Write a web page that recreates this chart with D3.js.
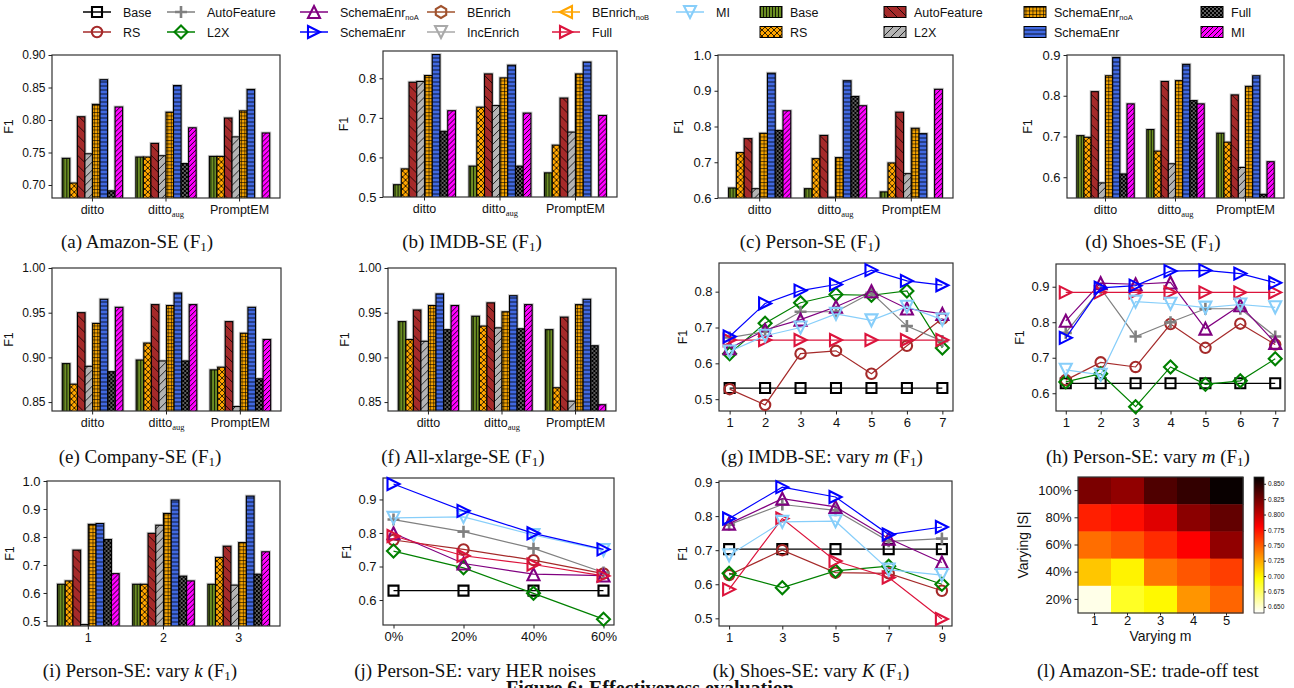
<!DOCTYPE html>
<html><head><meta charset="utf-8">
<script src="https://cdn.jsdelivr.net/npm/d3@7"></script>
<style>
body{margin:0;background:#fff;}
svg text{font-family:"Liberation Sans",Arial,sans-serif;fill:#111;}
svg text.cap{font-family:"Liberation Serif","DejaVu Serif",serif;}
</style></head><body>
<svg width="1294" height="688"></svg>
<script>
// ---- data ----
var groups = ["ditto", "ditto_aug", "PromptEM"];
var kGroups = ["1", "2", "3"];
var barKeys = ["Base", "RS", "AutoFeature", "L2X", "SchemaEnr_noA", "SchemaEnr", "Full", "MI"];

var amazonSE = [
  [0.741, 0.703, 0.805, 0.748, 0.824, 0.862, 0.691, 0.820],
  [0.743, 0.743, 0.764, 0.745, 0.812, 0.853, 0.733, 0.788],
  [0.744, 0.744, 0.803, 0.774, 0.814, 0.847, null, 0.780]];
var imdbSE = [
  [0.531, 0.571, 0.790, 0.792, 0.807, 0.860, 0.666, 0.718],
  [0.578, 0.727, 0.811, 0.731, 0.801, 0.833, 0.578, 0.712],
  [0.561, 0.631, 0.750, 0.664, 0.811, 0.841, null, 0.706]];
var personSE = [
  [0.628, 0.727, 0.766, 0.626, 0.781, 0.949, 0.789, 0.844],
  [0.626, 0.710, 0.775, 0.602, 0.713, 0.928, 0.884, 0.858],
  [0.617, 0.698, 0.840, 0.668, 0.795, 0.780, null, 0.904]];
var shoesSE = [
  [0.702, 0.698, 0.810, 0.586, 0.849, 0.894, 0.608, 0.780],
  [0.717, 0.664, 0.835, 0.633, 0.837, 0.877, 0.788, 0.780],
  [0.708, 0.686, 0.802, 0.624, 0.823, 0.849, 0.558, 0.638]];
var companySE = [
  [0.893, 0.870, 0.950, 0.890, 0.938, 0.965, 0.884, 0.956],
  [0.897, 0.916, 0.959, 0.896, 0.958, 0.972, 0.896, 0.959],
  [0.886, 0.889, 0.940, 0.845, 0.927, 0.956, 0.876, 0.920]];
var allXlargeSE = [
  [0.940, 0.920, 0.953, 0.918, 0.958, 0.971, 0.931, 0.958],
  [0.946, 0.935, 0.961, 0.933, 0.951, 0.969, 0.932, 0.959],
  [0.931, 0.866, 0.945, 0.851, 0.959, 0.965, 0.913, 0.847]];
var personVaryK = [
  [0.631, 0.643, 0.753, 0.487, 0.845, 0.848, 0.791, 0.669],
  [0.631, 0.631, 0.813, 0.842, 0.884, 0.932, 0.660, 0.643],
  [0.631, 0.727, 0.767, 0.628, 0.780, 0.946, 0.667, 0.747]];

var mValues = ["1", "2", "3", "4", "5", "6", "7"];
var imdbVaryM = {
  Base: [0.531, 0.531, 0.531, 0.531, 0.531, 0.531, 0.531],
  RS: [0.528, 0.484, 0.627, 0.635, 0.571, 0.649, 0.725],
  L2X: [0.627, 0.712, 0.769, 0.792, 0.790, 0.802, 0.643],
  AutoFeature: [0.672, 0.688, 0.744, 0.744, 0.797, 0.704, 0.662],
  SchemaEnr_noA: [0.642, 0.693, 0.722, 0.758, 0.801, 0.753, 0.738],
  Full: [0.665, 0.665, 0.665, 0.665, 0.665, 0.665, 0.665],
  MI: [0.633, 0.677, 0.700, 0.738, 0.720, 0.758, 0.722],
  SchemaEnr: [0.675, 0.767, 0.803, 0.820, 0.860, 0.830, 0.818]};
var personVaryM = {
  Base: [0.628, 0.628, 0.628, 0.628, 0.628, 0.628, 0.628],
  RS: [0.637, 0.687, 0.674, 0.795, 0.728, 0.796, 0.737],
  L2X: [0.632, 0.655, 0.562, 0.674, 0.625, 0.635, 0.697],
  AutoFeature: [0.770, 0.895, 0.760, 0.800, 0.838, 0.838, 0.760],
  SchemaEnr_noA: [0.804, 0.910, 0.907, 0.912, 0.782, 0.848, 0.742],
  Full: [0.884, 0.884, 0.884, 0.884, 0.884, 0.884, 0.884],
  MI: [0.666, 0.652, 0.858, 0.852, 0.841, 0.850, 0.842],
  SchemaEnr: [0.756, 0.897, 0.903, 0.944, 0.946, 0.937, 0.911]};

var noiseLevels = ["0%", "20%", "40%", "60%"];
var personNoise = {
  Base: [0.628, 0.628, 0.628, 0.628],
  RS: [0.779, 0.751, 0.719, 0.679],
  L2X: [0.746, 0.696, 0.620, 0.543],
  AutoFeature: [0.840, 0.804, 0.754, 0.682],
  SchemaEnr_noA: [0.799, 0.709, 0.677, 0.673],
  Full: [0.791, 0.732, 0.706, 0.672],
  MI: [0.845, 0.848, 0.794, 0.749],
  SchemaEnr: [0.946, 0.866, 0.799, 0.751]};

var kValues = ["1", "3", "5", "7", "9"];
var shoesVaryK = {
  Base: [0.703, 0.703, 0.703, 0.703, 0.703],
  RS: [0.627, 0.700, 0.634, 0.632, 0.581],
  L2X: [0.632, 0.590, 0.639, 0.653, 0.600],
  AutoFeature: [0.775, 0.834, 0.817, 0.726, 0.734],
  SchemaEnr_noA: [0.778, 0.851, 0.827, 0.734, 0.664],
  Full: [0.585, 0.793, 0.668, 0.620, 0.498],
  MI: [0.685, 0.783, 0.785, 0.643, 0.627],
  SchemaEnr: [0.793, 0.885, 0.856, 0.746, 0.768]};

var tradeM = ["1", "2", "3", "4", "5"];
var tradeS = ["100%", "80%", "60%", "40%", "20%"];
var tradeF1 = [
  [0.822, 0.815, 0.836, 0.845, 0.858],
  [0.770, 0.776, 0.790, 0.817, 0.830],
  [0.744, 0.752, 0.766, 0.781, 0.815],
  [0.715, 0.700, 0.741, 0.752, 0.760],
  [0.645, 0.688, 0.698, 0.731, 0.747]];

// ---- styles ----
var lineStyle = {
  Base: {c: "#000000", m: "square"},
  RS: {c: "#a52a2a", m: "circle"},
  AutoFeature: {c: "#808080", m: "plus"},
  L2X: {c: "#008000", m: "diamond"},
  SchemaEnr_noA: {c: "#800080", m: "triUp"},
  SchemaEnr: {c: "#0000ff", m: "triRight"},
  BEnrich: {c: "#a0522d", m: "hexagon"},
  IncEnrich: {c: "#a9a9a9", m: "triDown"},
  BEnrich_noB: {c: "#ffa500", m: "triLeft"},
  Full: {c: "#dc143c", m: "triRight"},
  MI: {c: "#87cefa", m: "triDown"}
};
var lineOrder = ["Base", "RS", "L2X", "AutoFeature", "SchemaEnr_noA", "Full", "MI", "SchemaEnr"];

var svg = d3.select("svg");
var defs = svg.append("defs");

function pattern(id, w, h, bg, d, sw) {
  var p = defs.append("pattern").attr("id", id).attr("patternUnits", "userSpaceOnUse")
    .attr("width", w).attr("height", h);
  p.append("rect").attr("width", w).attr("height", h).attr("fill", bg);
  if (d) p.append("path").attr("d", d).attr("stroke", "#000").attr("stroke-width", sw).attr("fill", "none");
  return p;
}
pattern("p-Base", 3, 3, "#6b8e23", "M1.5,0V3", 0.8);
pattern("p-RS", 6, 6, "#ffa500", "M0,0L6,6M6,0L0,6", 0.8);
pattern("p-AutoFeature", 10, 10, "#a52a2a", "M0,0L10,10M-5,5L5,15M5,-5L15,5", 0.8);
pattern("p-L2X", 8, 8, "#b4b4b4", "M0,8L8,0M-4,4L4,-4M4,12L12,4", 0.8);
pattern("p-SchemaEnr_noA", 3.5, 3.5, "#f5a300", "M0,0.5H3.5M0.5,0V3.5", 0.6);
pattern("p-SchemaEnr", 4, 4, "#4169e1", "M0,2H4", 0.8);
var pf = pattern("p-Full", 4, 4, "#000", null, 0);
pf.append("circle").attr("cx", 1).attr("cy", 1).attr("r", 0.7).attr("fill", "#fff");
pf.append("circle").attr("cx", 3).attr("cy", 3).attr("r", 0.7).attr("fill", "#fff");
pattern("p-MI", 5, 5, "#ff00ff", "M0,5L5,0M-2.5,2.5L2.5,-2.5M2.5,7.5L7.5,2.5", 0.9);

function markerPath(m) {
  var h;
  switch (m) {
    case "square": h = 5; return "M" + -h + "," + -h + "H" + h + "V" + h + "H" + -h + "Z";
    case "circle": h = 5.2; return "M" + h + ",0A" + h + "," + h + " 0 1,1 " + -h + ",0A" + h + "," + h + " 0 1,1 " + h + ",0Z";
    case "diamond": h = 6.5; return "M0," + -h + "L" + h + ",0L0," + h + "L" + -h + ",0Z";
    case "plus": h = 6; return "M" + -h + ",0H" + h + "M0," + -h + "V" + h;
    case "triUp": h = 6; return "M0," + -h + "L" + h + "," + h + "L" + -h + "," + h + "Z";
    case "triDown": h = 6; return "M0," + h + "L" + h + "," + -h + "L" + -h + "," + -h + "Z";
    case "triRight": h = 6; return "M" + h + ",0L" + -h + "," + h + "L" + -h + "," + -h + "Z";
    case "triLeft": h = 6; return "M" + -h + ",0L" + h + "," + h + "L" + h + "," + -h + "Z";
    case "hexagon":
      return d3.range(6).map(function(i) {
        var a = Math.PI / 3 * i + Math.PI / 2;
        return (i ? "L" : "M") + (6 * Math.cos(a)).toFixed(2) + "," + (6 * Math.sin(a)).toFixed(2);
      }).join("") + "Z";
  }
}

// text with subscript / italic pieces
function richText(sel, parts, subSize) {
  var back = 0;
  parts.forEach(function(p) {
    var t, isSub = typeof p === "object" && p.sub != null;
    if (typeof p === "string") t = sel.append("tspan").text(p);
    else if (isSub) t = sel.append("tspan").attr("font-size", subSize).text(p.sub);
    else t = sel.append("tspan").attr("font-style", "italic").text(p.i);
    var dy = (isSub ? 3 : 0) - back;
    if (dy) t.attr("dy", dy);
    back = isSub ? 3 : 0;
  });
  return sel;
}

function frame(g, o) {
  g.append("rect").attr("x", o.l).attr("y", o.t).attr("width", o.r - o.l).attr("height", o.b - o.t)
    .attr("fill", "none").attr("stroke", "#333").attr("stroke-width", 1.2);
}

function yAxis(g, o, y) {
  var ax = g.append("g").attr("transform", "translate(" + o.l + ",0)")
    .call(d3.axisLeft(y).tickValues(o.ticks).tickFormat(d3.format(o.fmt)).tickSize(3.5).tickPadding(3));
  ax.select(".domain").remove();
  ax.attr("font-size", o.fs).attr("font-family", "Liberation Sans, Arial, sans-serif").attr("color", "#222");
  g.append("text").attr("transform", "translate(" + (o.l - o.ylab) + "," + ((o.t + o.b) / 2) + ") rotate(-90)")
    .attr("text-anchor", "middle").attr("font-size", 12.5).text("F1");
}

function caption(x, y, parts) {
  var t = svg.append("text").attr("class", "cap").attr("x", x).attr("y", y)
    .attr("text-anchor", "middle").attr("font-size", 19);
  richText(t, parts, 13);
}

var panelId = 0;
function barPanel(o) {
  var g = svg.append("g");
  var id = "clip" + (panelId++);
  defs.append("clipPath").attr("id", id).append("rect")
    .attr("x", o.l).attr("y", o.t).attr("width", o.r - o.l).attr("height", o.b - o.t);
  var x0 = d3.scaleBand().domain(o.cats).range([o.l, o.r]).paddingInner(0.18).paddingOuter(0.14);
  var x1 = d3.scaleBand().domain(barKeys).range([0, x0.bandwidth()]);
  var y = d3.scaleLinear().domain(o.dom).range([o.b, o.t]);
  var bars = g.append("g").attr("clip-path", "url(#" + id + ")");
  var grp = bars.selectAll("g").data(o.data).join("g")
    .attr("transform", function(d, i) { return "translate(" + x0(o.cats[i]) + ",0)"; });
  var items = function(d) {
    return d.map(function(v, i) { return {k: barKeys[i], v: v}; }).filter(function(e) { return e.v != null; });
  };
  grp.selectAll("rect.halo").data(items).join("rect").attr("class", "halo")
    .attr("x", function(d) { return x1(d.k); }).attr("width", x1.bandwidth())
    .attr("y", function(d) { return y(d.v); }).attr("height", function(d) { return y(o.dom[0]) - y(d.v) + 2; })
    .attr("fill", "none").attr("stroke", "#c8c8c8").attr("stroke-width", 3);
  grp.selectAll("rect.bar").data(items).join("rect").attr("class", "bar")
    .attr("x", function(d) { return x1(d.k); }).attr("width", x1.bandwidth())
    .attr("y", function(d) { return y(d.v); }).attr("height", function(d) { return y(o.dom[0]) - y(d.v) + 2; })
    .attr("fill", function(d) { return "url(#p-" + d.k + ")"; })
    .attr("stroke", "#000").attr("stroke-width", 1.1);
  frame(g, o);
  yAxis(g, o, y);
  o.cats.forEach(function(c) {
    var cx = x0(c) + x0.bandwidth() / 2;
    g.append("line").attr("x1", cx).attr("x2", cx).attr("y1", o.b).attr("y2", o.b + 3.5).attr("stroke", "#222");
    var t = g.append("text").attr("x", cx).attr("y", o.b + 16).attr("text-anchor", "middle").attr("font-size", 12.5);
    if (c === "ditto_aug") {
      t.append("tspan").text("ditto");
      t.append("tspan").attr("font-size", 8.5).attr("dy", 3).attr("font-family", "Liberation Serif, serif").text("aug");
    } else t.text(c);
  });
}

function linePanel(o) {
  var g = svg.append("g");
  var x = d3.scalePoint().domain(o.xs).range([o.l, o.r]).padding(o.pad);
  var y = d3.scaleLinear().domain(o.dom).range([o.b, o.t]);
  frame(g, o);
  yAxis(g, o, y);
  var xa = g.append("g").attr("transform", "translate(0," + o.b + ")")
    .call(d3.axisBottom(x).tickSize(3.5).tickPadding(3));
  xa.select(".domain").remove();
  xa.attr("font-size", o.fs).attr("font-family", "Liberation Sans, Arial, sans-serif").attr("color", "#222");
  var line = d3.line().x(function(d, i) { return x(o.xs[i]); }).y(function(d) { return y(d); });
  lineOrder.forEach(function(k) {
    var st = lineStyle[k], vals = o.data[k];
    g.append("path").attr("d", line(vals)).attr("fill", "none").attr("stroke", st.c).attr("stroke-width", 1.2);
    g.selectAll(null).data(vals).join("path")
      .attr("transform", function(d, i) { return "translate(" + x(o.xs[i]) + "," + y(d) + ")"; })
      .attr("d", markerPath(st.m)).attr("fill", "none").attr("stroke", st.c)
      .attr("stroke-width", st.m === "plus" ? 2.6 : 2.1);
  });
}

// ---- legend ----
var lineLegend = [
  ["Base", 97, 0], ["AutoFeature", 181, 0], ["SchemaEnr_noA", 314, 0], ["BEnrich", 441, 0], ["BEnrich_noB", 566, 0], ["MI", 690, 0],
  ["RS", 97, 1], ["L2X", 181, 1], ["SchemaEnr", 314, 1], ["IncEnrich", 441, 1], ["Full", 566, 1]];
var barLegend = [
  ["Base", 760, 0], ["AutoFeature", 884, 0], ["SchemaEnr_noA", 1024, 0], ["Full", 1201, 0],
  ["RS", 760, 1], ["L2X", 884, 1], ["SchemaEnr", 1024, 1], ["MI", 1201, 1]];
function legendLabel(t, name) {
  var m = name.match(/^(.*)_(no[AB])$/);
  if (m) richText(t, [m[1], {sub: m[2]}], 7.5);
  else t.text(name);
}
var lg = svg.append("g");
lineLegend.forEach(function(e) {
  var st = lineStyle[e[0]], cy = 12 + e[2] * 20;
  lg.append("line").attr("x1", e[1] - 14).attr("x2", e[1] + 14).attr("y1", cy).attr("y2", cy)
    .attr("stroke", st.c).attr("stroke-width", 1.5);
  lg.append("path").attr("transform", "translate(" + e[1] + "," + cy + ")").attr("d", markerPath(st.m))
    .attr("fill", "none").attr("stroke", st.c).attr("stroke-width", st.m === "plus" ? 2.6 : 2.1);
  legendLabel(lg.append("text").attr("x", e[1] + 26).attr("y", cy + 4.5).attr("font-size", 12.5), e[0]);
});
barLegend.forEach(function(e) {
  var cy = 12 + e[2] * 20;
  lg.append("rect").attr("x", e[1]).attr("y", cy - 5.5).attr("width", 22).attr("height", 11)
    .attr("fill", "url(#p-" + e[0] + ")").attr("stroke", "#000").attr("stroke-width", 1);
  legendLabel(lg.append("text").attr("x", e[1] + 30).attr("y", cy + 4.5).attr("font-size", 12.5), e[0]);
});

// ---- panels ----
barPanel({data: amazonSE, cats: groups, l: 52, r: 280, t: 55, b: 198, dom: [0.68, 0.90], ticks: [0.70, 0.75, 0.80, 0.85, 0.90], fmt: ".2f", fs: 12, ylab: 39});
barPanel({data: imdbSE, cats: groups, l: 383, r: 617, t: 51, b: 197, dom: [0.5, 0.869], ticks: [0.5, 0.6, 0.7, 0.8], fmt: ".1f", fs: 13, ylab: 35});
barPanel({data: personSE, cats: groups, l: 718, r: 953, t: 55, b: 198, dom: [0.6, 1.0], ticks: [0.6, 0.7, 0.8, 0.9, 1.0], fmt: ".1f", fs: 13, ylab: 35});
barPanel({data: shoesSE, cats: groups, l: 1067, r: 1284, t: 55, b: 198, dom: [0.549, 0.9], ticks: [0.6, 0.7, 0.8, 0.9], fmt: ".1f", fs: 13, ylab: 35});
barPanel({data: companySE, cats: groups, l: 52, r: 281, t: 268, b: 411, dom: [0.84, 1.0], ticks: [0.85, 0.90, 0.95, 1.00], fmt: ".2f", fs: 12, ylab: 39});
barPanel({data: allXlargeSE, cats: groups, l: 388, r: 616, t: 268, b: 411, dom: [0.84, 1.0], ticks: [0.85, 0.90, 0.95, 1.00], fmt: ".2f", fs: 12, ylab: 39});
barPanel({data: personVaryK, cats: kGroups, l: 47, r: 280, t: 481, b: 626, dom: [0.482, 1.0], ticks: [0.5, 0.6, 0.7, 0.8, 0.9, 1.0], fmt: ".1f", fs: 13, ylab: 33});

linePanel({data: imdbVaryM, xs: mValues, pad: 0.3, l: 719, r: 953, t: 263, b: 411, dom: [0.467, 0.880], ticks: [0.5, 0.6, 0.7, 0.8], fmt: ".1f", fs: 13, ylab: 32});
linePanel({data: personVaryM, xs: mValues, pad: 0.28, l: 1056, r: 1285, t: 264, b: 411, dom: [0.550, 0.964], ticks: [0.6, 0.7, 0.8, 0.9], fmt: ".1f", fs: 13, ylab: 32});
linePanel({data: personNoise, xs: noiseLevels, pad: 0.15, l: 383, r: 614, t: 478, b: 625, dom: [0.5255, 0.964], ticks: [0.6, 0.7, 0.8, 0.9], fmt: ".1f", fs: 13, ylab: 32});
linePanel({data: shoesVaryK, xs: kValues, pad: 0.19, l: 719, r: 952, t: 481, b: 626, dom: [0.4775, 0.903], ticks: [0.5, 0.6, 0.7, 0.8, 0.9], fmt: ".1f", fs: 13, ylab: 32});

// ---- heatmap (l) ----
function hot(x) {
  var c = function(v) { return Math.max(0, Math.min(1, v)); };
  return d3.rgb(255 * c(x / 0.365079), 255 * c((x - 0.365079) / 0.380953), 255 * c((x - 0.746032) / 0.253968)).toString();
}
var hmColor = d3.scaleSequential(function(t) { return hot(1 - t); }).domain([0.64, 0.861]);
var hm = {l: 1078, r: 1243, t: 477, b: 613};
var hg = svg.append("g");
var hx = d3.scaleBand().domain(tradeM).range([hm.l, hm.r]);
var hy = d3.scaleBand().domain(tradeS).range([hm.t, hm.b]);
tradeF1.forEach(function(row, ri) {
  hg.selectAll(null).data(row).join("rect")
    .attr("x", function(d, ci) { return hx(tradeM[ci]); }).attr("y", hy(tradeS[ri]))
    .attr("width", hx.bandwidth() + 0.5).attr("height", hy.bandwidth() + 0.5)
    .attr("fill", function(d) { return hmColor(d); });
});
hg.append("rect").attr("x", hm.l).attr("y", hm.t).attr("width", hm.r - hm.l).attr("height", hm.b - hm.t)
  .attr("fill", "none").attr("stroke", "#333").attr("stroke-width", 1.2);
var hxa = hg.append("g").attr("transform", "translate(0," + hm.b + ")").call(d3.axisBottom(hx).tickSize(2.5).tickPadding(0));
var hya = hg.append("g").attr("transform", "translate(" + hm.l + ",0)").call(d3.axisLeft(hy).tickSize(3.5).tickPadding(3));
[hxa, hya].forEach(function(a) {
  a.select(".domain").remove();
  a.attr("font-size", 13).attr("font-family", "Liberation Sans, Arial, sans-serif").attr("color", "#222");
});
hg.append("text").attr("x", (hm.l + hm.r) / 2).attr("y", 641).attr("text-anchor", "middle").attr("font-size", 14).text("Varying m");
hg.append("text").attr("transform", "translate(1028," + ((hm.t + hm.b) / 2) + ") rotate(-90)")
  .attr("text-anchor", "middle").attr("font-size", 14).text("Varying |S|");
var cb = {l: 1254, r: 1264};
var cbY = d3.scaleLinear().domain([0.64, 0.861]).range([hm.b, hm.t]);
hg.selectAll(null).data(d3.range(hm.t, hm.b, 1)).join("rect")
  .attr("x", cb.l).attr("y", function(d) { return d; }).attr("width", cb.r - cb.l).attr("height", 1.2)
  .attr("fill", function(d) { return hmColor(cbY.invert(d + 0.5)); });
hg.append("rect").attr("x", cb.l).attr("y", hm.t).attr("width", cb.r - cb.l).attr("height", hm.b - hm.t)
  .attr("fill", "none").attr("stroke", "#333").attr("stroke-width", 0.8);
var cba = hg.append("g").attr("transform", "translate(" + cb.r + ",0)")
  .call(d3.axisRight(cbY).tickValues(d3.range(0.65, 0.8501, 0.025)).tickFormat(d3.format(".3f")).tickSize(2).tickPadding(2));
cba.select(".domain").remove();
cba.attr("font-size", 6.5).attr("font-family", "Liberation Sans, Arial, sans-serif").attr("color", "#222");

// ---- captions ----
caption(137, 248, ["(a)  Amazon-SE (F", {sub: "1"}, ")"]);
caption(472, 248, ["(b)  IMDB-SE (F", {sub: "1"}, ")"]);
caption(810, 248, ["(c)  Person-SE (F", {sub: "1"}, ")"]);
caption(1153, 248, ["(d)  Shoes-SE (F", {sub: "1"}, ")"]);
caption(140, 463, ["(e)  Company-SE (F", {sub: "1"}, ")"]);
caption(463, 463, ["(f)  All-xlarge-SE (F", {sub: "1"}, ")"]);
caption(822, 463, ["(g)  IMDB-SE: vary ", {i: "m"}, " (F", {sub: "1"}, ")"]);
caption(1148, 463, ["(h)  Person-SE: vary ", {i: "m"}, " (F", {sub: "1"}, ")"]);
caption(140, 677, ["(i)  Person-SE: vary ", {i: "k"}, " (F", {sub: "1"}, ")"]);
caption(475, 677, ["(j)  Person-SE: vary HER noises"]);
caption(811, 677, ["(k)  Shoes-SE: vary ", {i: "K"}, " (F", {sub: "1"}, ")"]);
caption(1148, 677, ["(l)  Amazon-SE: trade-off test"]);
svg.append("text").attr("class", "cap").attr("x", 650).attr("y", 695).attr("text-anchor", "middle")
  .attr("font-size", 20).attr("font-weight", "bold").text("Figure 6: Effectiveness evaluation");
</script></body></html>
